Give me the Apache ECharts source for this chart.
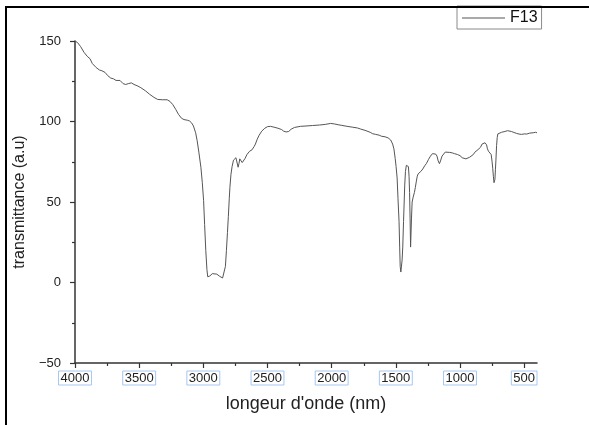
<!DOCTYPE html>
<html>
<head>
<meta charset="utf-8">
<script src="https://cdn.jsdelivr.net/npm/echarts@6/dist/echarts.min.js"></script>
<style>
html,body{margin:0;padding:0;background:#fff;}
#chart{width:589px;height:425px;}
</style>
</head>
<body>
<div id="chart"></div>
<script>
var seriesName = 'F13';
var xTickValues = [4000, 3500, 3000, 2500, 2000, 1500, 1000, 500];
var xMinorTickValues = [3750, 3250, 2750, 2250, 1750, 1250, 750];
var wavenumber = [
4000,3980,3956,3930,3905,3883,3865,3850,3835,3824,3810,3790,3766,3745,3722,3700,3680,3649,3625,3605,
3585,3561,3540,3510,3487,3450,3420,3385,3356,3320,3282,3260,3238,3215,3194,3170,3151,3125,3107,3090,
3077,3060,3048,3035,3019,3008,2998,2990,2981,2972,2966,2950,2930,2916,2895,2872,2850,2837,2828,2820,
2812,2805,2798,2793,2785,2776,2765,2755,2746,2740,2733,2729,2722,2716,2705,2697,2688,2675,2660,2640,
2620,2604,2594,2580,2565,2545,2521,2500,2477,2450,2418,2390,2374,2355,2345,2335,2316,2290,2243,2200,
2150,2096,2050,2008,1980,1950,1921,1880,1840,1800,1774,1740,1700,1680,1657,1630,1610,1584,1560,1540,
1525,1515,1505,1498,1490,1483,1475,1470,1466,1461,1456,1451,1446,1440,1435,1431,1425,1418,1410,1402,
1397,1393,1389,1385,1382,1378,1373,1365,1355,1348,1340,1333,1326,1318,1305,1290,1275,1261,1245,1230,
1215,1203,1190,1179,1170,1160,1152,1140,1130,1115,1100,1080,1060,1042,1020,1000,983,968,954,940,
925,910,896,885,870,860,851,840,828,816,805,793,786,778,768,757,750,745,740,735,
732,728,724,720,715,710,705,695,676,650,630,617,600,580,559,540,520,500,480,456,
430,412,400
];
var transmittance = [
150,149,146.5,143,140.5,139,136,135,133.5,134,132,131.5,130.5,128.5,127,126.5,125.5,125.5,123.5,123,
123.5,124,123,122,121,119,117,115,113.7,113.5,113.5,112.5,110.5,107.5,104.5,102,101.2,100.8,100.3,99,
97.2,93,88,81,71.6,62,51,36,20,8,3.6,4,5.5,5.8,5.2,3.8,2.8,3.5,10,20,
31,41,52,59,67,72,76,77,77.5,76.5,73,71.6,74,76.8,76,74.5,74.7,77,79.5,81.5,
82.5,84.5,86,89,91.5,94,95.8,96.8,97,96.5,95.8,95,94,93.5,92.5,93.8,95.2,96.3,97,97.2,
97.5,97.8,98.2,98.8,98.5,98,97.6,97,96.5,96,95.3,94.5,93.3,92.4,92,91.5,90.8,90.5,89.8,88.5,
86,83,77,72,65,52,38,22,10,6.5,7.5,14,22,38,50,60,69,72.8,73.2,72,
66,56,40,22,21.5,40,50,53,56,59,63,66,67.5,67,69,70.5,72.5,74,76.5,78.5,
80,80.2,79.8,78.5,75.5,73.8,75.5,78.5,79.5,81,81.4,80.8,80.5,80,79.5,78.8,77.5,77,76.8,77.2,
77.8,78,79.5,80.9,81,82.5,83.2,84,86,87.2,86.8,85.5,83,81.5,80.8,79.5,75,71,66,62,
61.3,64,70,76,85,90,92.3,93,93.3,93.8,94.3,94.3,93.8,93.2,92.6,92.2,92,92.3,92.2,92.8,
93,93.3,93
];

var points = wavenumber.map(function (w, i) { return [w, transmittance[i]]; });
var FONT = 'Liberation Sans, Arial, sans-serif';
function fmt(v) { return v < 0 ? '\u2212' + String(-v) : String(v); }
var chart = echarts.init(document.getElementById('chart'), null, {renderer: 'canvas'});
chart.setOption({
  animation: false,
  backgroundColor: '#ffffff',
  textStyle: {fontFamily: FONT},
  grid: {left: 75, right: 52, top: 41, bottom: 62, containLabel: false},
  legend: {
    data: [seriesName],
    left: 457, top: 6,
    icon: 'rect',
    itemWidth: 43, itemHeight: 1,
    borderColor: '#8a8a8a', borderWidth: 1,
    padding: [4, 4, 3, 5],
    textStyle: {fontSize: 16, color: '#111', fontFamily: FONT}
  },
  graphic: [{
    type: 'polyline', z: 100, silent: true,
    shape: {points: [[6, 440], [6, 7], [600, 7]]},
    style: {fill: null, stroke: '#000', lineWidth: 2}
  }],
  xAxis: [{
    type: 'value', inverse: true, min: 400, max: 4000,
    name: "longeur d'onde (nm)", nameLocation: 'middle', nameGap: 32,
    nameTextStyle: {fontSize: 18, color: '#222', fontFamily: FONT},
    axisLine: {show: true, onZero: false, lineStyle: {color: '#333', width: 1.5}},
    axisTick: {show: true, inside: false, length: 5, customValues: xTickValues, lineStyle: {color: '#333', width: 1.2}},
    axisLabel: {
      show: true, customValues: xTickValues, formatter: fmt, fontSize: 13, color: '#222', margin: 8,
      borderColor: '#a6c6f2', borderWidth: 1, padding: [1, 2, 0, 2], fontFamily: FONT
    },
    splitLine: {show: false}
  }, {
    type: 'value', inverse: true, min: 400, max: 4000, position: 'bottom',
    axisLine: {show: false, onZero: false},
    axisTick: {show: true, inside: false, length: 3, customValues: xMinorTickValues, lineStyle: {color: '#333', width: 1.2}},
    axisLabel: {show: false},
    splitLine: {show: false}
  }],
  yAxis: {
    type: 'value', min: -50, max: 150, interval: 50,
    name: 'transmittance (a.u)', nameLocation: 'middle', nameGap: 45,
    nameTextStyle: {fontSize: 16, color: '#222', fontFamily: FONT},
    axisLine: {show: true, onZero: false, lineStyle: {color: '#333', width: 1.5}},
    axisTick: {show: true, inside: false, length: 5, lineStyle: {color: '#333', width: 1.2}},
    minorTick: {show: true, splitNumber: 2, length: 3, lineStyle: {color: '#333', width: 1.2}},
    axisLabel: {fontSize: 13, color: '#222', margin: 14, formatter: fmt, fontFamily: FONT},
    splitLine: {show: false}
  },
  series: [{
    name: seriesName, type: 'line', xAxisIndex: 0, data: points,
    showSymbol: false, symbol: 'none',
    lineStyle: {color: '#555', width: 1},
    itemStyle: {color: '#555'}
  }]
});
</script>
</body>
</html>
